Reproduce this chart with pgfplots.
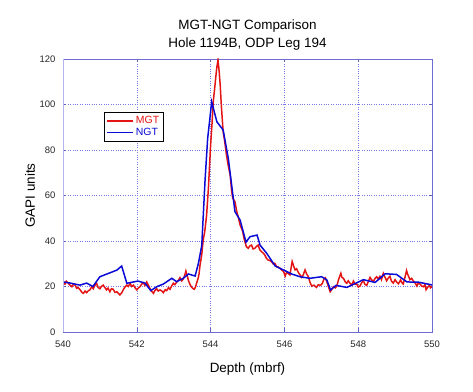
\documentclass[border=0pt]{standalone}
\usepackage{fontspec}
\setmainfont{Liberation Sans}
\usepackage{pgfplots}
\pgfplotsset{compat=1.18}
\definecolor{mgtred}{RGB}{228,20,20}
\definecolor{ngtblue}{RGB}{10,10,215}
\definecolor{gridblue}{RGB}{120,120,235}
\definecolor{leftaxis}{RGB}{180,180,240}
\begin{document}
\begin{tikzpicture}
\path[use as bounding box] (-63bp,-60bp) rectangle (410bp,332bp);
\begin{axis}[
  at={(0,0)}, anchor=south west,
  scale only axis, width=369bp, height=273bp,
  xmin=540, xmax=550, ymin=0, ymax=120,
  xtick={540,542,...,550}, ytick={0,20,...,120},
  /pgf/number format/assume math mode=true,
  /pgf/number format/set thousands separator={},
  tick label style={font=\fontsize{9.5}{11}\selectfont, color=black!85},
  xticklabel style={yshift=-5bp},
  yticklabel style={xshift=-4bp},
  tick align=inside, major tick length=3.5bp,
  tick style={gridblue!80!black, line width=0.6pt},
  grid=major,
  major grid style={gridblue, dotted, line width=0.6pt},
  axis line style={gridblue!90!black, line width=0.6pt},
  title={MGT-NGT Comparison\\Hole 1194B, ODP Leg 194},
  title style={align=center, font=\fontsize{13.5}{18}\selectfont, at={(0.5,1)}, anchor=south, yshift=-1bp},
  xlabel={Depth (mbrf)},
  ylabel={GAPI units},
  label style={font=\fontsize{13.5}{16}\selectfont},
  xlabel style={at={(axis description cs:0.5,-0.1355)}, anchor=center},
  ylabel style={at={(axis description cs:-0.089,0.5)}, anchor=center},
  legend style={at={(0.111,0.806)}, anchor=north west, draw=black, line width=1.2pt,
    font=\fontsize{10.5}{12}\selectfont, inner sep=2bp, row sep=-1bp},
  legend cell align=left,
  legend image code/.code={\draw[#1, line width=1.4pt] (0bp,0bp) -- (26bp,0bp);},
  clip=true,
]
\addplot[mgtred, line width=1.5pt] coordinates {
(540.00,22.5)(540.03,21.2)(540.05,21.0)(540.09,22.3)(540.14,21.5)(540.19,20.6)(540.24,19.9)(540.28,21.0)(540.33,20.6)(540.37,19.2)(540.41,19.6)(540.47,18.4)(540.51,17.5)(540.55,17.0)(540.60,18.0)(540.64,17.3)(540.69,18.2)(540.73,18.5)(540.78,20.0)(540.82,19.0)(540.86,20.4)(540.91,21.4)(540.95,19.6)(541.00,19.0)(541.04,20.0)(541.09,20.6)(541.14,19.4)(541.18,18.5)(541.22,19.3)(541.27,17.7)(541.31,19.0)(541.36,18.8)(541.41,17.4)(541.46,17.7)(541.50,17.0)(541.54,16.3)(541.59,17.2)(541.63,18.5)(541.68,19.8)(541.73,20.6)(541.77,20.0)(541.82,21.4)(541.86,20.0)(541.91,20.6)(541.95,19.5)(542.00,18.5)(542.04,19.3)(542.09,20.0)(542.13,21.0)(542.18,21.6)(542.22,20.5)(542.27,22.0)(542.31,20.6)(542.36,19.0)(542.40,18.0)(542.45,17.0)(542.49,18.2)(542.54,19.0)(542.58,18.0)(542.63,18.5)(542.68,18.0)(542.72,17.3)(542.77,18.6)(542.81,18.2)(542.86,19.5)(542.90,18.8)(542.95,20.4)(542.99,21.4)(543.03,20.8)(543.08,21.9)(543.13,22.8)(543.17,23.9)(543.22,22.5)(543.26,23.3)(543.30,25.0)(543.33,26.8)(543.37,24.5)(543.40,22.6)(543.45,20.6)(543.49,19.6)(543.53,19.0)(543.56,18.8)(543.59,19.8)(543.62,21.4)(543.66,23.5)(543.69,25.8)(543.71,29.0)(543.76,34.0)(543.80,40.5)(543.84,44.0)(543.89,51.0)(543.94,63.0)(544.00,82.0)(544.04,92.0)(544.07,101.0)(544.11,107.0)(544.14,112.0)(544.17,116.5)(544.20,119.5)(544.23,115.0)(544.26,108.6)(544.29,99.8)(544.34,88.0)(544.38,84.0)(544.43,77.8)(544.48,73.0)(544.53,69.0)(544.57,62.0)(544.60,58.8)(544.66,57.3)(544.71,52.9)(544.75,50.5)(544.80,47.0)(544.84,45.5)(544.87,44.1)(544.90,41.5)(544.93,39.7)(544.97,37.5)(545.02,36.8)(545.06,37.8)(545.11,38.2)(545.15,36.5)(545.20,36.8)(545.24,37.6)(545.29,38.2)(545.33,36.2)(545.38,35.3)(545.42,34.8)(545.47,33.8)(545.51,32.5)(545.56,31.6)(545.60,31.5)(545.65,30.9)(545.70,29.9)(545.74,30.2)(545.79,28.7)(545.83,28.6)(545.88,28.0)(545.93,27.2)(545.98,26.5)(546.02,24.5)(546.06,26.3)(546.11,25.6)(546.15,25.1)(546.21,31.0)(546.25,29.0)(546.29,27.3)(546.33,27.8)(546.38,26.1)(546.42,25.2)(546.47,24.0)(546.51,25.1)(546.56,27.3)(546.60,25.6)(546.65,24.3)(546.69,22.0)(546.74,20.2)(546.80,20.6)(546.87,19.6)(546.92,20.8)(546.98,20.5)(547.03,21.4)(547.07,23.2)(547.11,23.8)(547.15,22.1)(547.20,19.6)(547.24,17.7)(547.28,18.6)(547.33,19.9)(547.38,19.4)(547.42,20.2)(547.47,23.2)(547.53,25.8)(547.56,24.0)(547.60,23.6)(547.65,22.0)(547.69,21.4)(547.73,22.5)(547.78,21.4)(547.83,20.6)(547.87,22.4)(547.92,21.0)(547.96,21.1)(548.00,19.8)(548.05,20.2)(548.09,21.6)(548.14,22.6)(548.18,21.0)(548.23,20.5)(548.27,22.0)(548.32,24.0)(548.36,23.0)(548.41,22.1)(548.45,23.4)(548.50,24.3)(548.54,23.4)(548.59,24.5)(548.63,23.0)(548.68,25.8)(548.72,24.3)(548.77,22.5)(548.81,23.6)(548.86,24.5)(548.90,22.4)(548.95,21.5)(549.00,23.0)(549.04,22.0)(549.09,21.2)(549.15,22.9)(549.18,21.8)(549.22,21.1)(549.26,23.5)(549.31,27.0)(549.34,25.4)(549.37,24.3)(549.40,23.0)(549.45,23.6)(549.49,22.5)(549.54,21.6)(549.59,20.2)(549.63,21.6)(549.68,21.0)(549.72,20.2)(549.77,19.9)(549.81,20.8)(549.84,18.6)(549.88,19.6)(549.93,20.5)(549.96,19.4)(550.00,20.0)
};
\addlegendentry{\textcolor{mgtred}{MGT}}
\addplot[ngtblue, line width=1.5pt] coordinates {
(540.00,22.0)(540.20,21.5)(540.46,20.6)(540.64,21.5)(540.81,20.0)(541.00,24.3)(541.27,26.0)(541.46,27.2)(541.59,29.0)(541.73,21.4)(542.03,22.4)(542.22,21.5)(542.38,18.2)(542.54,19.9)(542.72,21.1)(542.95,23.6)(543.08,22.1)(543.26,23.6)(543.40,25.5)(543.58,24.6)(543.67,30.2)(543.76,38.0)(543.85,66.8)(543.92,85.0)(544.03,101.2)(544.17,92.4)(544.34,88.8)(544.48,76.3)(544.66,52.9)(544.80,49.2)(544.96,39.5)(545.07,41.9)(545.26,42.6)(545.34,38.2)(545.52,34.6)(545.75,29.0)(545.97,27.3)(546.20,25.5)(546.42,24.3)(546.69,23.6)(547.01,24.3)(547.15,22.9)(547.25,18.5)(547.40,20.5)(547.69,19.6)(548.14,23.0)(548.46,21.8)(548.73,25.6)(549.04,25.3)(549.32,22.0)(549.63,21.9)(550.00,20.7)
};
\addlegendentry{\textcolor{ngtblue}{NGT}}
\draw[leftaxis, line width=1.8bp] (rel axis cs:0,0) -- (rel axis cs:0,1);
\end{axis}
\end{tikzpicture}
\end{document}
